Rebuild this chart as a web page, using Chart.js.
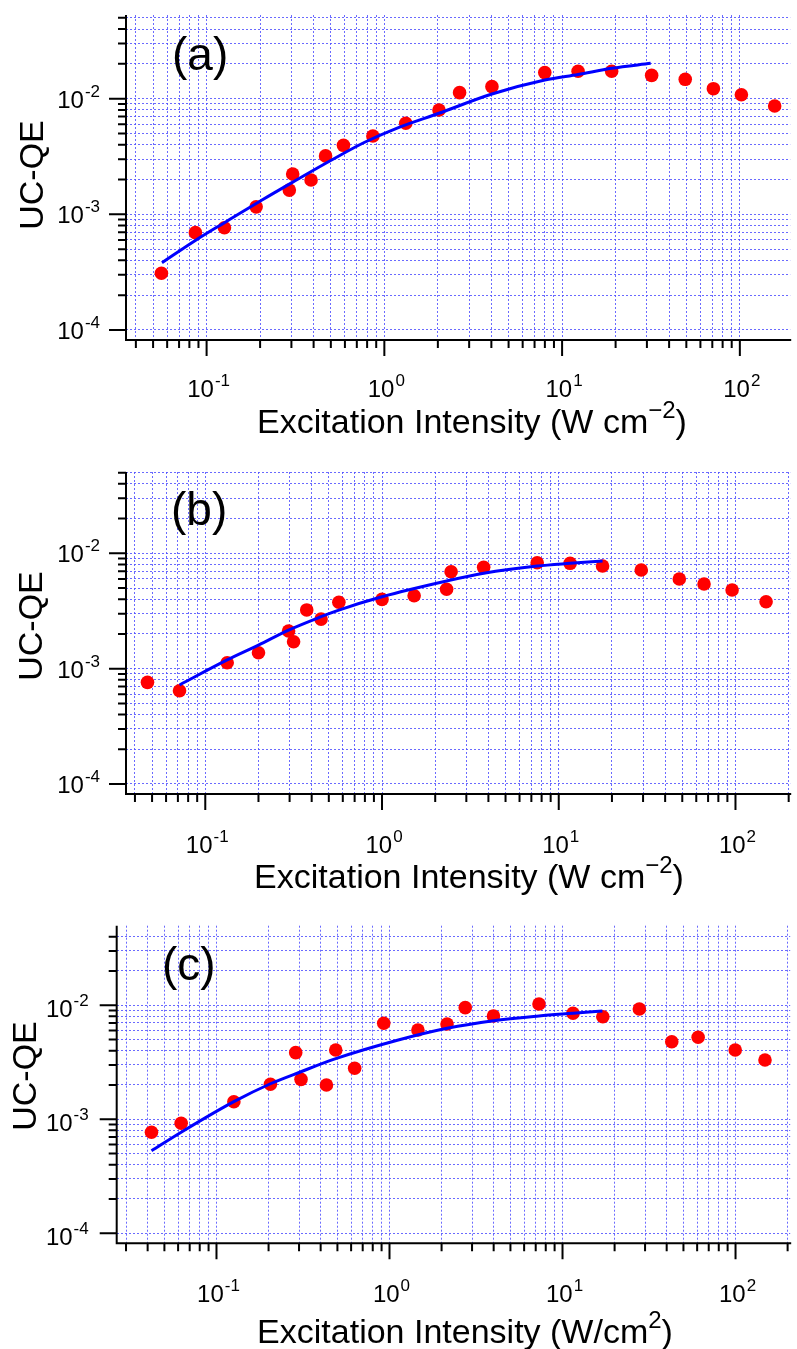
<!DOCTYPE html>
<html>
<head>
<meta charset="utf-8">
<script src="https://cdn.jsdelivr.net/npm/chart.js@4"></script>
<style>
  body { margin: 0; background: #fff; }
  .panel { position: absolute; left: 0; width: 797px; }
</style>
</head>
<body>
<div class="panel" style="top:0;height:450px"><canvas id="chartA"></canvas></div>
<div class="panel" style="top:450px;height:460px"><canvas id="chartB"></canvas></div>
<div class="panel" style="top:910px;height:439px"><canvas id="chartC"></canvas></div>
<script>
// (a) measured points and fit curve
const xA = [0.0557, 0.0865, 0.126, 0.190, 0.292, 0.305, 0.387, 0.467, 0.589, 0.862, 1.32, 2.03, 2.65, 4.03, 7.99, 12.3, 19.0, 31.9, 49.3, 71.0, 102, 157];
const yA = [3.09e-4, 6.94e-4, 7.66e-4, 1.16e-3, 1.62e-3, 2.23e-3, 1.98e-3, 3.2e-3, 3.95e-3, 4.76e-3, 6.13e-3, 7.99e-3, 1.127e-2, 1.27e-2, 1.68e-2, 1.725e-2, 1.725e-2, 1.59e-2, 1.47e-2, 1.22e-2, 1.08e-2, 8.65e-3];
const fitXA = [0.0561, 0.0873, 0.126, 0.205, 0.302, 0.505, 0.775, 1.19, 2.03, 4.03, 7.99, 12.3, 19.0, 31.5];
const fitYA = [3.82e-4, 6.0e-4, 8.47e-4, 1.33e-3, 1.88e-3, 2.95e-3, 4.2e-3, 5.6e-3, 7.48e-3, 1.098e-2, 1.45e-2, 1.62e-2, 1.83e-2, 2.02e-2];

// (b)
const xB = [0.0471, 0.0715, 0.133, 0.200, 0.296, 0.316, 0.375, 0.452, 0.570, 1.0, 1.52, 2.32, 2.46, 3.76, 7.55, 11.6, 17.7, 29.3, 48.1, 66.4, 95.7, 149];
const yB = [7.61e-4, 6.44e-4, 1.126e-3, 1.375e-3, 2.12e-3, 1.71e-3, 3.23e-3, 2.69e-3, 3.76e-3, 3.99e-3, 4.29e-3, 4.88e-3, 6.93e-3, 7.56e-3, 8.29e-3, 8.19e-3, 7.76e-3, 7.16e-3, 5.99e-3, 5.42e-3, 4.81e-3, 3.8e-3];
const fitXB = [0.0715, 0.133, 0.200, 0.296, 0.452, 0.570, 1.0, 2.32, 3.76, 7.55, 11.6, 17.7];
const fitYB = [7.22e-4, 1.19e-3, 1.6e-3, 2.16e-3, 2.82e-3, 3.22e-3, 4.2e-3, 5.75e-3, 6.71e-3, 7.76e-3, 8.19e-3, 8.575e-3];

// (c)
const xC = [0.0421, 0.0625, 0.126, 0.205, 0.287, 0.308, 0.432, 0.489, 0.629, 0.926, 1.46, 2.15, 2.74, 3.99, 7.31, 11.5, 17.1, 27.8, 42.8, 60.8, 99.6, 148];
const yC = [7.69e-4, 9.22e-4, 1.427e-3, 2.03e-3, 3.84e-3, 2.24e-3, 2.0e-3, 4.05e-3, 2.8e-3, 6.95e-3, 6.07e-3, 6.86e-3, 9.53e-3, 8.06e-3, 1.027e-2, 8.51e-3, 7.94e-3, 9.28e-3, 4.79e-3, 5.24e-3, 4.05e-3, 3.31e-3];
const fitXC = [0.0421, 0.0625, 0.126, 0.205, 0.305, 0.489, 1.11, 2.15, 3.99, 7.31, 11.5, 17.0];
const fitYC = [5.3e-4, 7.7e-4, 1.427e-3, 2.05e-3, 2.6e-3, 3.4e-3, 4.93e-3, 6.28e-3, 7.33e-3, 8.06e-3, 8.51e-3, 8.91e-3];

// axes
const xMajor = [0.1, 1, 10, 100];
const xMajorExp = ['-1', '0', '1', '2'];
const yMajor = [1e-4, 1e-3, 1e-2];
const yMajorExp = ['-4', '-3', '-2'];
const xDecades = [0.01, 0.1, 1, 10, 100];
const yDecades = [1e-4, 1e-3, 1e-2];
const minorSteps = [2, 3, 4, 5, 6, 7, 8, 9];

const FONT = '"Liberation Sans", Arial, Helvetica, sans-serif';
const GRID = 'rgba(80, 80, 255, 0.85)';

function tickValues(decades, majors, min, max) {
    const vals = majors.slice();
    decades.forEach(d => minorSteps.forEach(k => vals.push(+(d * k).toPrecision(3))));
    return vals.filter(v => v >= min && v <= max).sort((a, b) => a - b);
}

function isMajor(v, majors) {
    return majors.some(m => Math.abs(v / m - 1) < 1e-6);
}

// "10" with a raised exponent
function drawPow(ctx, exp, x, y, align) {
    ctx.font = '24px ' + FONT;
    const w1 = ctx.measureText('10').width;
    ctx.font = '17px ' + FONT;
    const w2 = ctx.measureText(exp).width + 1;
    const x0 = align === 'center' ? x - (w1 + w2) / 2 : x - (w1 + w2);
    ctx.textAlign = 'left';
    ctx.textBaseline = 'alphabetic';
    ctx.font = '24px ' + FONT;
    ctx.fillText('10', x0, y);
    ctx.font = '17px ' + FONT;
    ctx.fillText(exp, x0 + w1 + 1, y - 11);
}

function axesPlugin(p) {
    return {
        id: 'axes' + p.label,
        afterDraw(chart) {
            const {ctx, chartArea: a, scales: {x, y}} = chart;
            ctx.save();
            ctx.strokeStyle = '#000';
            ctx.fillStyle = '#000';
            ctx.lineWidth = 2;
            ctx.beginPath();
            ctx.moveTo(a.left, a.top);
            ctx.lineTo(a.left, a.bottom);
            ctx.lineTo(a.right + 1, a.bottom);
            ctx.stroke();

            ctx.beginPath();
            x.ticks.forEach(t => {
                const px = x.getPixelForValue(t.value);
                const len = isMajor(t.value, xMajor) ? 16 : 8;
                ctx.moveTo(px, a.bottom);
                ctx.lineTo(px, a.bottom + len);
            });
            y.ticks.forEach(t => {
                const py = y.getPixelForValue(t.value);
                const len = isMajor(t.value, yMajor) ? 17 : 8;
                ctx.moveTo(a.left - len, py);
                ctx.lineTo(a.left, py);
            });
            ctx.stroke();

            xMajor.forEach((v, i) => drawPow(ctx, xMajorExp[i], x.getPixelForValue(v) + 2, a.bottom + p.xLabelDy, 'center'));
            yMajor.forEach((v, i) => drawPow(ctx, yMajorExp[i], a.left - p.yLabelGap, y.getPixelForValue(v) + p.yLabelDy, 'right'));

            // panel letter
            ctx.textAlign = 'left';
            ctx.textBaseline = 'alphabetic';
            ctx.font = '46px ' + FONT;
            ctx.fillText(p.label, p.labelX, p.labelY);

            // x title with superscript
            ctx.font = '34px ' + FONT;
            const w1 = ctx.measureText(p.title[0]).width;
            ctx.font = '24px ' + FONT;
            const w2 = ctx.measureText(p.title[1]).width;
            ctx.font = '34px ' + FONT;
            const w3 = ctx.measureText(p.title[2]).width;
            const tx = p.titleX - (w1 + w2 + w3) / 2;
            ctx.fillText(p.title[0], tx, p.titleY);
            ctx.font = '24px ' + FONT;
            ctx.fillText(p.title[1], tx + w1, p.titleY - 15);
            ctx.font = '34px ' + FONT;
            ctx.fillText(p.title[2], tx + w1 + w2, p.titleY);

            // y title
            ctx.translate(p.yTitleX, p.yTitleY);
            ctx.rotate(-Math.PI / 2);
            ctx.textAlign = 'center';
            ctx.font = '34px ' + FONT;
            ctx.fillText('UC-QE', 0, 0);
            ctx.restore();
        }
    };
}

function makeChart(id, p) {
    const xTicks = tickValues(xDecades, xMajor, p.xMin, p.xMax);
    const yTicks = tickValues(yDecades, yMajor, p.yMin, p.yMax);
    return new Chart(document.getElementById(id), {
        type: 'scatter',
        data: {
            datasets: [{
                data: p.fitX.map((v, i) => ({x: v, y: p.fitY[i]})),
                showLine: true,
                pointRadius: 0,
                borderColor: '#0000ff',
                borderWidth: 3,
                cubicInterpolationMode: 'monotone'
            }, {
                data: p.xs.map((v, i) => ({x: v, y: p.ys[i]})),
                showLine: false,
                pointRadius: 6.8,
                pointBackgroundColor: '#ff0000',
                pointBorderWidth: 0
            }]
        },
        options: {
            responsive: true,
            maintainAspectRatio: false,
            animation: false,
            layout: {padding: {top: p.top, right: 1, left: 0, bottom: 0}},
            plugins: {legend: {display: false}, tooltip: {enabled: false}},
            scales: {
                x: {
                    type: 'logarithmic', min: p.xMin, max: p.xMax,
                    afterBuildTicks: s => { s.ticks = xTicks.map(v => ({value: v})); },
                    afterFit: s => { s.height = p.xAxisH; },
                    ticks: {display: false},
                    grid: {color: GRID, lineWidth: 1, drawTicks: false},
                    border: {display: false, dash: [2, 2]}
                },
                y: {
                    type: 'logarithmic', min: p.yMin, max: p.yMax,
                    afterBuildTicks: s => { s.ticks = yTicks.map(v => ({value: v})); },
                    afterFit: s => { s.width = p.left; },
                    ticks: {display: false},
                    grid: {color: GRID, lineWidth: 1, drawTicks: false},
                    border: {display: false, dash: [2, 2]}
                }
            }
        },
        plugins: [axesPlugin(p)]
    });
}

makeChart('chartA', {
    xs: xA, ys: yA, fitX: fitXA, fitY: fitYA,
    xMin: 0.0352, xMax: 192, yMin: 8.19e-5, yMax: 0.0529,
    top: 15, left: 126, xAxisH: 110,
    xLabelDy: 57, yLabelGap: 26, yLabelDy: 9,
    label: '(a)', labelX: 172, labelY: 70,
    title: ['Excitation Intensity (W cm', '\u22122', ')'], titleX: 472, titleY: 433,
    yTitleX: 43, yTitleY: 175
});

makeChart('chartB', {
    xs: xB, ys: yB, fitX: fitXB, fitY: fitYB,
    xMin: 0.0356, xMax: 204, yMin: 8.19e-5, yMax: 0.0507,
    top: 22, left: 126, xAxisH: 116,
    xLabelDy: 59, yLabelGap: 26, yLabelDy: 9,
    label: '(b)', labelX: 171, labelY: 75,
    title: ['Excitation Intensity (W cm', '\u22122', ')'], titleX: 469, titleY: 438,
    yTitleX: 42, yTitleY: 176
});

makeChart('chartC', {
    xs: xC, ys: yC, fitX: fitXC, fitY: fitYC,
    xMin: 0.0265, xMax: 207, yMin: 8.17e-5, yMax: 0.0499,
    top: 15.7, left: 116.7, xAxisH: 105.7,
    xLabelDy: 59, yLabelGap: 28, yLabelDy: 12,
    label: '(c)', labelX: 162, labelY: 70,
    title: ['Excitation Intensity (W/cm', '2', ')'], titleX: 465, titleY: 433,
    yTitleX: 36, yTitleY: 166
});
</script>
</body>
</html>
